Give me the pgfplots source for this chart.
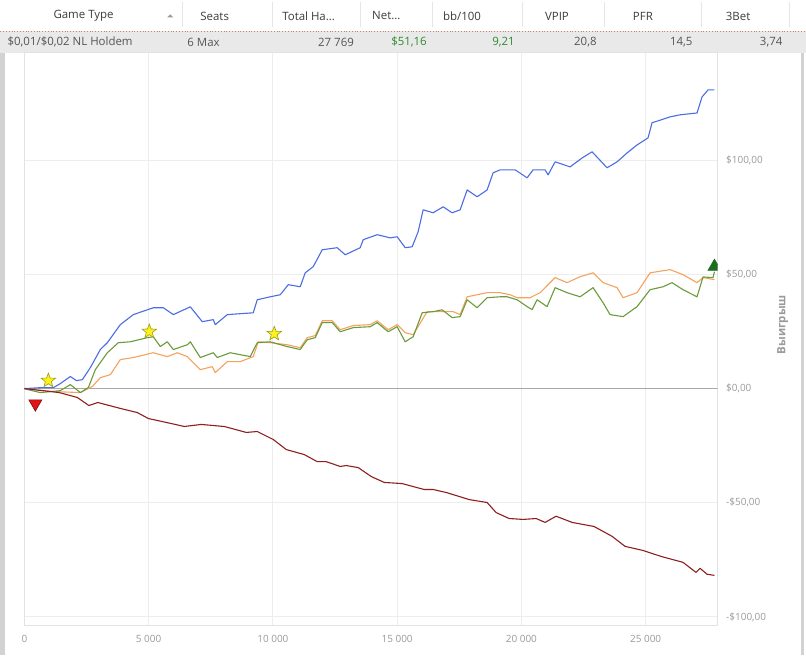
\documentclass[border=0pt]{standalone}
\usepackage{pgfplots}
\pgfplotsset{compat=1.18}
\usepackage{fontspec}
\setmainfont{Open Sans}
\definecolor{cblue}{HTML}{4A6EE2}
\definecolor{corange}{HTML}{F4A35E}
\definecolor{cgreen}{HTML}{6A9B3B}
\definecolor{cred}{HTML}{8E1F1F}
\definecolor{cgrid}{HTML}{EDEDED}
\definecolor{cframe}{HTML}{E2E2E2}
\definecolor{czero}{HTML}{A8A8A8}
\definecolor{ctick}{HTML}{9A9A9A}
\definecolor{chead}{HTML}{3C3C3C}
\definecolor{crow}{HTML}{555555}
\definecolor{cval}{HTML}{2F8A2F}
\definecolor{crowbg}{HTML}{E9E9E9}
\definecolor{cdot}{HTML}{C9825A}
\definecolor{cstrip}{HTML}{D2D2D2}
\definecolor{csep}{HTML}{E6E6E6}
\definecolor{cstar}{HTML}{FFF21A}
\definecolor{cstarb}{HTML}{9A9A20}
\definecolor{ctri}{HTML}{E01515}
\definecolor{ctrib}{HTML}{7A1010}
\definecolor{cgtri}{HTML}{1E6A1E}

\pgfdeclareplotmark{fstar}{%
 \pgfpathmoveto{\pgfpointpolar{90}{\pgfplotmarksize}}%
 \pgfpathlineto{\pgfpointpolar{126}{0.42\pgfplotmarksize}}%
 \pgfpathlineto{\pgfpointpolar{162}{\pgfplotmarksize}}%
 \pgfpathlineto{\pgfpointpolar{198}{0.42\pgfplotmarksize}}%
 \pgfpathlineto{\pgfpointpolar{234}{\pgfplotmarksize}}%
 \pgfpathlineto{\pgfpointpolar{270}{0.42\pgfplotmarksize}}%
 \pgfpathlineto{\pgfpointpolar{306}{\pgfplotmarksize}}%
 \pgfpathlineto{\pgfpointpolar{342}{0.42\pgfplotmarksize}}%
 \pgfpathlineto{\pgfpointpolar{18}{\pgfplotmarksize}}%
 \pgfpathlineto{\pgfpointpolar{54}{0.42\pgfplotmarksize}}%
 \pgfpathclose\pgfusepathqfillstroke}

\begin{document}
\begin{tikzpicture}
\begin{scope}[x=1bp,y=1bp]
\fill[white] (0,0) rectangle (806,656);
% ---- header table ----
\fill[crowbg] (0,603) rectangle (806,625);
\draw[cdot, dotted, line width=0.8bp] (0,625) -- (806,625);
\foreach \sx in {182,272,360,432,523,605,702,790}{\draw[csep, line width=0.8bp] (\sx,629) -- (\sx,654);}
\begin{scope}[every node/.style={inner sep=0pt, font=\fontsize{11.5}{13}\selectfont}]
\node[text=chead, anchor=west] at (53,640) {Game Type};
\fill[gray!80] (167,638.5) -- (173,638.5) -- (170,641.5) -- cycle;
\node[text=chead, anchor=west] at (200,640) {Seats};
\node[text=chead, anchor=west] at (282,640) {Total Ha...};
\node[text=chead, anchor=west] at (372,640) {Net...};
\node[text=chead, anchor=west] at (443,640) {bb/100};
\node[text=chead, anchor=west] at (545,640) {VPIP};
\node[text=chead, anchor=west] at (633,640) {PFR};
\node[text=chead, anchor=west] at (726,640) {3Bet};
\node[text=crow, anchor=west] at (7,614) {\$0,01/\$0,02 NL Holdem};
\node[text=crow, anchor=west] at (187,614) {6 Max};
\node[text=crow, anchor=east] at (354,614) {27 769};
\node[text=cval, anchor=east] at (427,614) {\$51,16};
\node[text=cval, anchor=east] at (515,614) {9,21};
\node[text=crow, anchor=east] at (597,614) {20,8};
\node[text=crow, anchor=east] at (693,614) {14,5};
\node[text=crow, anchor=east] at (783,614) {3,74};
\end{scope}
% ---- side strips ----
\fill[cstrip] (0,0) rectangle (5,603);
\fill[cstrip] (801,0) rectangle (804,603);
\node[rotate=90, inner sep=0pt, text=ctick, font=\bfseries\fontsize{11.5}{13}\selectfont] at (783,331) {Выигрыш};
\end{scope}
\begin{axis}[
  at={(24bp,30bp)}, anchor=south west, scale only axis,
  width=694bp, height=573bp,
  xmin=0, xmax=27900, ymin=-103.7, ymax=147,
  scaled x ticks=false,
  xtick={0,5000,10000,15000,20000,25000},
  xticklabels={0,5 000,10 000,15 000,20 000,25 000},
  ytick={-100,-50,0,50,100},
  yticklabels={{-\$100,00},{-\$50,00},{\$0,00},{\$50,00},{\$100,00}},
  yticklabel pos=right,
  grid=major, major grid style={draw=cgrid, line width=1bp},
  axis line style={draw=cframe, line width=1bp},
  major tick length=0pt,
  ticklabel style={font=\fontsize{10}{12}\selectfont, text=ctick},
  yticklabel style={anchor=west, xshift=5bp},
  xticklabel style={yshift=-6bp},
  clip marker paths=true,
]
\addplot[czero, line width=1bp, forget plot] coordinates {(0,0) (27900,0)};
% orange
\addplot[corange, line width=1.1bp, line join=round, mark=none] coordinates {
(0,0) (1166,-1.3) (2252,-1.75) (2735,0.9) (3057,4.8) (3459,6.1) (3861,12.7) (4384,13.6)
(5188,15.7) (5751,14.0) (6154,15.7) (6556,14.0) (7079,8.3) (7562,9.6) (7682,7.0) (8165,11.8)
(8688,11.8) (9211,14.0) (9412,20.5) (9894,20.1) (10578,19.2) (11100,17.9) (11382,22.3)
(11704,23.2) (11986,29.7) (12388,29.7) (12710,25.8) (13233,27.6) (13916,28.0) (14198,29.7)
(14640,25.8) (15002,28.0) (15324,24.5) (15645,23.6) (16208,33.7) (17254,33.7) (17536,32.4)
(17818,40.2) (18622,42.0) (19145,42.0) (19547,41.1) (19828,39.8) (20351,39.8) (20754,42.0)
(21357,48.6) (21840,46.4) (22362,49.0) (22885,50.7) (23287,46.4) (23850,44.2) (24092,39.8)
(24655,42.0) (25178,50.7) (25982,52.1) (26505,49.9) (27068,46.4) (27309,48.6) (27769,47.7)};
% green
\addplot[cgreen, line width=1.1bp, line join=round, mark=none] coordinates {
(0,0) (121,-0.4) (644,-1.75) (1448,-0.9) (1850,1.75) (2252,-1.75) (2574,0.44) (2856,8.3)
(3338,15.7) (3781,20.1) (4263,20.5) (4947,22.3) (5188,22.7) (5470,18.4) (5751,20.5)
(5993,17.1) (6556,19.2) (6677,20.5) (7079,13.6) (7602,15.7) (7762,13.6) (8285,15.7)
(9090,14.0) (9372,20.1) (9894,20.5) (10015,20.1) (10578,18.4) (11100,17.1) (11382,21.4)
(11704,22.3) (11986,28.9) (12388,28.9) (12710,24.9) (13233,26.7) (13916,27.1) (14198,28.9)
(14640,24.9) (15002,27.1) (15324,20.5) (15645,22.7) (16007,33.2) (16450,33.7) (16812,34.5)
(17214,31.1) (17536,31.5) (17818,38.9) (18220,35.4) (18622,39.8) (19145,40.2) (19426,40.2)
(19828,38.9) (20231,35.9) (20432,34.6) (20633,38.9) (21035,35.9) (21357,44.2) (21840,42.0)
(22362,40.2) (22885,44.2) (23287,37.6) (23569,32.4) (24092,31.5) (24655,35.9) (25178,43.3)
(25700,44.6) (26062,46.4) (26505,43.3) (27068,40.2) (27309,48.9) (27711,48.6) (27769,51.2)};
% blue
\addplot[cblue, line width=1.1bp, line join=round, mark=none] coordinates {
(0,0) (644,0.4) (1166,0.4) (1448,2.2) (1850,5.3) (2091,3.5) (2333,3.9) (2655,9.2)
(3057,17.1) (3338,20.1) (3861,28.0) (4384,32.4) (5188,35.4) (5591,35.4) (5993,32.4)
(6677,35.8) (7159,29.3) (7602,30.2) (7682,28.0) (8165,32.4) (9211,33.2) (9372,38.9)
(9894,40.2) (10296,41.1) (10618,45.5) (11100,44.6) (11301,50.7) (11624,53.4) (11986,60.8)
(12589,61.7) (12911,58.6) (13514,61.7) (13635,65.2) (14198,67.4) (14721,66.0) (15002,66.5)
(15324,61.7) (15605,62.1) (15846,68.7) (16047,78.3) (16450,77.0) (16852,79.6) (17214,77.0)
(17536,78.3) (17818,87.0) (18220,84.0) (18622,87.0) (18863,94.5) (19145,95.8) (19748,95.8)
(20231,92.3) (20472,95.8) (20955,95.8) (21075,93.6) (21357,99.3) (21960,97.1) (22443,101.0)
(22845,103.7) (23448,96.7) (23850,99.3) (24253,103.2) (24655,106.7) (25097,109.8)
(25258,116.4) (25982,119.0) (26384,119.9) (27068,120.7) (27269,127.7) (27510,130.8) (27769,130.8)};
% red
\addplot[cred, line width=1.1bp, line join=round, mark=none] coordinates {
(0,0) (1408,-1.75) (2132,-3.9) (2594,-7.4) (2956,-6.1) (3901,-8.8) (4545,-10.5) (4987,-13.1)
(6073,-15.7) (6435,-16.6) (7119,-15.7) (8044,-16.6) (8929,-19.2) (9372,-18.8) (10015,-22.3)
(10538,-26.7) (11262,-28.9) (11785,-32.0) (12146,-32.0) (12710,-34.1) (12951,-33.7)
(13434,-34.6) (13956,-38.5) (14479,-41.1) (15203,-41.6) (16088,-44.2) (16450,-44.2)
(16973,-45.5) (17898,-48.6) (18622,-49.9) (18984,-54.3) (19507,-56.9) (20070,-57.3)
(20593,-56.9) (20955,-58.6) (21397,-55.9) (22040,-58.6) (22925,-60.4) (23649,-64.7)
(24172,-69.1) (24896,-70.9) (25620,-73.5) (26505,-76.1) (27028,-80.5) (27189,-78.7)
(27470,-81.3) (27769,-81.8)};
% markers
\addplot[only marks, mark=fstar, mark size=7.5bp, mark options={fill=cstar, draw=cstarb, line width=0.6bp}] coordinates {(965,3.5) (5027,25) (10055,24)};
\addplot[only marks, mark=triangle*, mark size=7.5bp, mark options={rotate=180, fill=ctri, draw=ctrib, line width=0.6bp}] coordinates {(442,-6.6)};
\addplot[only marks, mark=triangle*, mark size=7.5bp, mark options={fill=cgtri, draw=cgtri, line width=0.6bp}] coordinates {(27769,53.4)};
\end{axis}
\end{tikzpicture}
\end{document}
